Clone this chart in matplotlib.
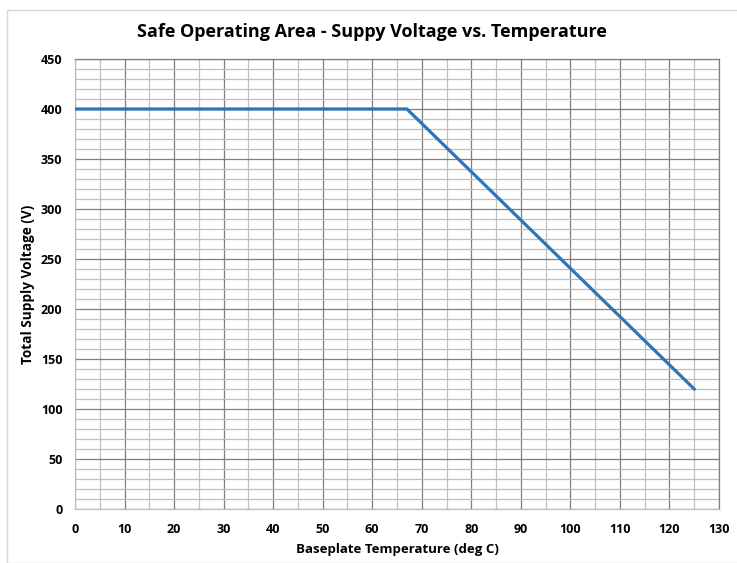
import matplotlib.pyplot as plt
from matplotlib.patches import Rectangle
from matplotlib.ticker import MultipleLocator

# data
temp = [0, 67, 125]
voltage = [400, 400, 120]

plt.rcParams["font.family"] = ["Open Sans", "DejaVu Sans"]
text_color = "#000000"

fig = plt.figure(figsize=(7.37, 5.63), dpi=100)
W, H = 737, 563

# chart area border (Excel style)
fig.patches.append(
    Rectangle((7 / W, 0), 1, 1 - 10 / H, transform=fig.transFigure,
              fill=False, edgecolor="#d9d9d9", linewidth=1)
)

ax = fig.add_axes([75 / W, 1 - 509 / H, (719 - 75) / W, (509 - 59) / H])

ax.plot(temp, voltage, color="#2e75b6", linewidth=2.3, zorder=5,
        solid_joinstyle="miter")

ax.set_xlim(0, 130)
ax.set_ylim(0, 450)
ax.xaxis.set_major_locator(MultipleLocator(10))
ax.xaxis.set_minor_locator(MultipleLocator(5))
ax.yaxis.set_major_locator(MultipleLocator(50))
ax.yaxis.set_minor_locator(MultipleLocator(10))

ax.grid(which="major", color="#7f7f7f", linewidth=0.9)
ax.grid(which="minor", color="#bfbfbf", linewidth=0.9)
ax.set_axisbelow(True)

for spine in ax.spines.values():
    spine.set_color("#bfbfbf")
    spine.set_linewidth(0.9)
ax.spines["top"].set_color("#7f7f7f")
ax.spines["right"].set_color("#7f7f7f")

ax.tick_params(which="both", length=0)
ax.tick_params(axis="x", pad=10)
ax.tick_params(axis="y", pad=9)
for lbl in ax.get_xticklabels() + ax.get_yticklabels():
    lbl.set_fontweight("bold")
    lbl.set_fontsize(9)
    lbl.set_color(text_color)

ax.set_xlabel("Baseplate Temperature (deg C)", fontsize=9.5, fontweight="bold",
              labelpad=5)
ax.set_ylabel("Total Supply Voltage (V)", fontsize=9.8, fontweight="bold",
              labelpad=4)
fig.text(372 / W, 1 - 32 / H,
         "Safe Operating Area - Suppy Voltage vs. Temperature",
         ha="center", va="center", fontsize=13, fontweight="bold")

plt.savefig("out.png", dpi=100)
plt.close()
